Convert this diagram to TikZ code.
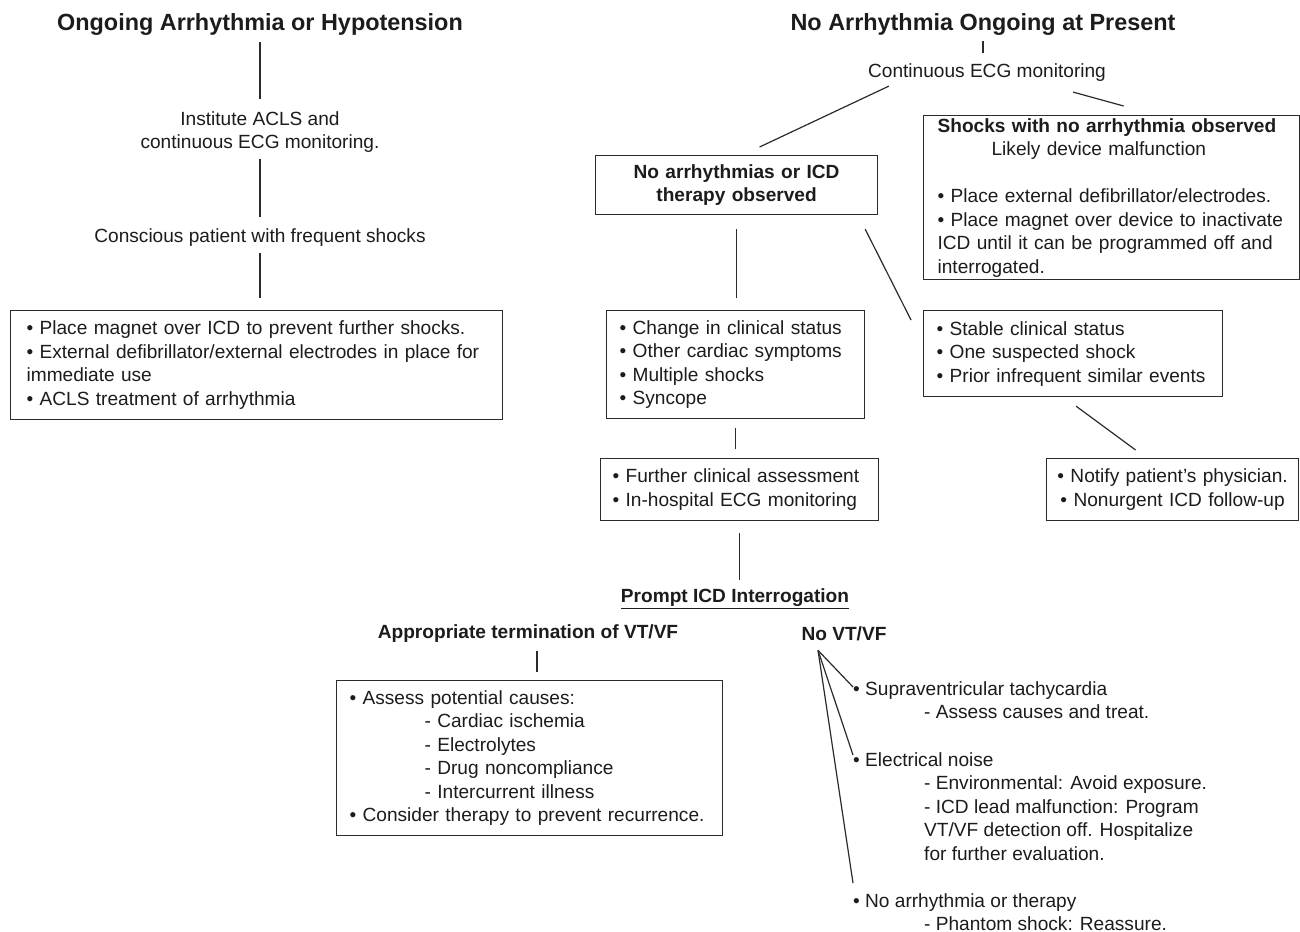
\documentclass[tikz,border=0pt]{standalone}
\usepackage{fontspec}
\setmainfont{Liberation Sans}
\definecolor{ShockInk}{HTML}{1C1C1C}
\definecolor{ShockLine}{HTML}{2B2B2B}

\tikzset{
  flowtext/.style={font=\fontsize{19.1}{23.5}\selectfont, text=ShockInk, inner sep=3pt},
  flowbold/.style={flowtext, font=\fontsize{19.1}{23.5}\selectfont\bfseries},
  flowhead/.style={font=\fontsize{23.4}{28}\selectfont\bfseries, text=ShockInk, inner sep=3pt},
  flowbox/.style={flowtext, draw=ShockLine, line width=1.2pt, anchor=north west,
    align=left, inner xsep=14pt, inner ysep=0pt},
  flowlink/.style={draw=ShockLine, line width=1.2pt}
}

\begin{document}
\begin{tikzpicture}[x=1pt,y=-1pt]
  \useasboundingbox[fill=white] (0,0) rectangle (1300,931);

  % left branch
  \node[flowhead] (ongoing) at (260,25) {Ongoing Arrhythmia or Hypotension};
  \node[flowtext, align=center] (acls) at (260,132)
    {Institute ACLS and\\continuous ECG monitoring.};
  \node[flowtext] (conscious) at (260,238) {Conscious patient with frequent shocks};
  \node[
    flowbox,
    inner xsep=16pt,
    text width=460pt,
    minimum height=109pt
  ] (magnet) at (10,310) {%
    • Place magnet over ICD to prevent further shocks.\\
    • External defibrillator/external electrodes in place for\\
    immediate use\\
    • ACLS treatment of arrhythmia
  };

  % right branch
  \node[flowhead] (noarr) at (983,25) {No Arrhythmia Ongoing at Present};
  \node[flowtext] (ecg) at (987,73) {Continuous ECG monitoring};
  \node[
    flowbox,
    align=center,
    font=\fontsize{19.1}{23.5}\selectfont\bfseries,
    text width=254pt,
    minimum height=59pt
  ] (nothera) at (595,155) {No arrhythmias or ICD\\therapy observed};
  \node[
    flowbox,
    inner xsep=14pt,
    text width=348pt,
    minimum height=164pt
  ] (shocks) at (923,115) {%
    {\bfseries Shocks with no arrhythmia observed}\\
    \hspace*{54pt}Likely device malfunction\\[23.5pt]
    • Place external defibrillator/electrodes.\\
    • Place magnet over device to inactivate\\
    ICD until it can be programmed off and\\
    interrogated.
  };
  \node[
    flowbox,
    inner xsep=13pt,
    text width=232pt,
    minimum height=108pt
  ] (change) at (606,310) {%
    • Change in clinical status\\
    • Other cardiac symptoms\\
    • Multiple shocks\\
    • Syncope
  };
  \node[
    flowbox,
    inner xsep=13pt,
    text width=273pt,
    minimum height=86pt
  ] (stable) at (923,310) {%
    • Stable clinical status\\
    • One suspected shock\\
    • Prior infrequent similar events
  };
  \node[
    flowbox,
    align=center,
    inner xsep=6pt,
    text width=240pt,
    minimum height=62pt
  ] (notify) at (1046,458) {%
    • Notify patient’s physician.\\
    • Nonurgent ICD follow-up
  };
  \node[
    flowbox,
    inner xsep=12pt,
    text width=254pt,
    minimum height=62pt
  ] (further) at (600,458) {%
    • Further clinical assessment\\
    • In-hospital ECG monitoring
  };

  % interrogation
  \node[flowbold] (prompt) at (735,599) {\underline{Prompt ICD Interrogation}};
  \node[flowbold] (approp) at (528,634) {Appropriate termination of VT/VF};
  \node[flowbold] (novt) at (844,634) {No VT/VF};
  \node[
    flowbox,
    inner xsep=13pt,
    text width=360pt,
    minimum height=155pt
  ] (assess) at (336,680) {%
    • Assess potential causes:\\
    \hspace*{75pt}- Cardiac ischemia\\
    \hspace*{75pt}- Electrolytes\\
    \hspace*{75pt}- Drug noncompliance\\
    \hspace*{75pt}- Intercurrent illness\\
    • Consider therapy to prevent recurrence.
  };
  \node[flowtext, anchor=north west, align=left] (svt) at (850,678) {%
    • Supraventricular tachycardia\\
    \hspace*{71pt}- Assess causes and treat.
  };
  \node[flowtext, anchor=north west, align=left] (noise) at (850,749) {%
    • Electrical noise\\
    \hspace*{71pt}- Environmental: Avoid exposure.\\
    \hspace*{71pt}- ICD lead malfunction: Program\\
    \hspace*{71pt}VT/VF detection off. Hospitalize\\
    \hspace*{71pt}for further evaluation.
  };
  \node[flowtext, anchor=north west, align=left] (noarrh) at (850,890) {%
    • No arrhythmia or therapy\\
    \hspace*{71pt}- Phantom shock: Reassure.
  };
  \coordinate (fan) at ([xshift=-26pt,yshift=-6pt]novt.south);

  % connectors
  \draw[flowlink, shorten <=3pt, shorten >=9pt] (ongoing.south) -- (acls.north);
  \draw[flowlink, shorten <=3pt, shorten >=9pt] (acls.south) -- (conscious.north);
  \draw[flowlink, shorten <=3pt, shorten >=12pt] (conscious.south) -- (conscious.south |- magnet.north);
  \draw[flowlink, shorten <=2pt, shorten >=8pt] (noarr.south) -- (noarr.south |- ecg.north);
  \draw[flowlink] ([xshift=24pt,yshift=-1pt]ecg.south west)
    -- ([xshift=23pt,yshift=8pt]nothera.north);
  \draw[flowlink] ([xshift=-36pt,yshift=-7pt]ecg.south east)
    -- ([xshift=12pt,yshift=9pt]shocks.north);
  \draw[flowlink, shorten <=14pt, shorten >=12pt] (nothera.south) -- (nothera.south |- change.north);
  \draw[flowlink] ([xshift=-13pt,yshift=-14pt]nothera.south east)
    -- ([xshift=-12pt,yshift=-10pt]stable.north west);
  \draw[flowlink] ([xshift=3pt,yshift=-9pt]stable.south)
    -- ([xshift=-37pt,yshift=8pt]notify.north);
  \draw[flowlink, shorten <=9pt, shorten >=9pt] (change.south) -- (change.south |- further.north);
  \draw[flowlink, shorten <=12pt, shorten >=6pt] (further.south) -- (further.south |- prompt.north);
  \draw[flowlink, shorten <=5pt, shorten >=8pt] ([xshift=9pt]approp.south)
    -- ([xshift=9pt]approp.south |- assess.north);
  \draw[flowlink] (fan) -- ([xshift=3pt,yshift=-9pt]svt.north west);
  \draw[flowlink] (fan) -- ([xshift=3pt,yshift=-6pt]noise.north west);
  \draw[flowlink] (fan) -- ([xshift=3pt,yshift=7pt]noarrh.north west);
\end{tikzpicture}
\end{document}
